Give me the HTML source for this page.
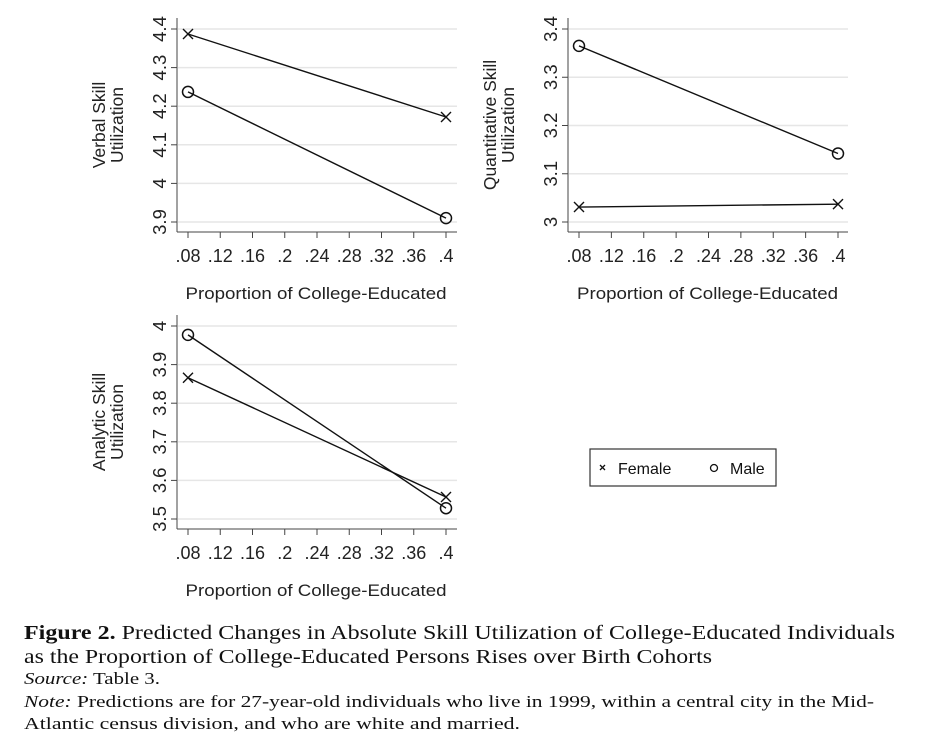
<!DOCTYPE html>
<html><head><meta charset="utf-8"><style>
html,body{margin:0;padding:0;background:#fff;}
svg{display:block;font-family:"Liberation Sans",sans-serif;}
</style></head><body>
<svg id="fig" width="942" height="743" viewBox="0 0 942 743" xmlns="http://www.w3.org/2000/svg">
<g id="panels"></g>
<g>
  <rect x="590" y="449" width="186" height="37" fill="#fff" stroke="#333" stroke-width="1.2"/>
  <g>
    <path d="M600,465 l5,5 M605,465 l-5,5" stroke="#111" stroke-width="1.3"/>
    <text x="618" y="474" font-size="16" fill="#111">Female</text>
  </g>
  <g>
    <circle cx="714" cy="468" r="3.5" fill="none" stroke="#111" stroke-width="1.3"/>
    <text x="730" y="474" font-size="16" fill="#111">Male</text>
  </g>
</g>
<g font-family="'Liberation Serif',serif" fill="#111">
  <text x="24" y="639" font-size="20" textLength="871" lengthAdjust="spacingAndGlyphs"><tspan font-weight="bold">Figure 2.</tspan> Predicted Changes in Absolute Skill Utilization of College-Educated Individuals</text>
  <text x="24" y="663" font-size="20" textLength="688" lengthAdjust="spacingAndGlyphs">as the Proportion of College-Educated Persons Rises over Birth Cohorts</text>
  <text x="24" y="684" font-size="17" textLength="136" lengthAdjust="spacingAndGlyphs"><tspan font-style="italic">Source:</tspan> Table 3.</text>
  <text x="24" y="707" font-size="17" textLength="850" lengthAdjust="spacingAndGlyphs"><tspan font-style="italic">Note:</tspan> Predictions are for 27-year-old individuals who live in 1999, within a central city in the Mid-</text>
  <text x="24" y="729" font-size="17" textLength="496" lengthAdjust="spacingAndGlyphs">Atlantic census division, and who are white and married.</text>
</g>
</svg>
<script>
const xCats = [0.08, 0.4];
const xTicks = [0.08, 0.12, 0.16, 0.2, 0.24, 0.28, 0.32, 0.36, 0.4];
const xTickLabels = [".08", ".12", ".16", ".2", ".24", ".28", ".32", ".36", ".4"];
const verbalFemale = [4.387, 4.172];
const verbalMale = [4.237, 3.91];
const verbalTicks = [3.9, 4, 4.1, 4.2, 4.3, 4.4];
const verbalTickLabels = ["3.9", "4", "4.1", "4.2", "4.3", "4.4"];
const quantFemale = [3.031, 3.037];
const quantMale = [3.365, 3.142];
const quantTicks = [3, 3.1, 3.2, 3.3, 3.4];
const quantTickLabels = ["3", "3.1", "3.2", "3.3", "3.4"];
const analyticFemale = [3.866, 3.557];
const analyticMale = [3.977, 3.528];
const analyticTicks = [3.5, 3.6, 3.7, 3.8, 3.9, 4];
const analyticTickLabels = ["3.5", "3.6", "3.7", "3.8", "3.9", "4"];

const NS = "http://www.w3.org/2000/svg";
const root = document.getElementById('panels');
function mk(tag, attrs, parent) {
  const e = document.createElementNS(NS, tag);
  for (const k in attrs) e.setAttribute(k, attrs[k]);
  parent.appendChild(e);
  return e;
}
function panel(cfg) {
  const g = mk('g', {}, root);
  
  
  const x = v => cfg.x0 + (v - 0.08) / 0.32 * (cfg.x1 - cfg.x0);
  const y = v => cfg.y0 + (cfg.yv0 - v) / (cfg.yv0 - cfg.yv1) * (cfg.y1 - cfg.y0);
  cfg.ticks.forEach((t, i) => {
    const gl = mk('line', {x1: cfg.ax + 1, x2: cfg.ar, y1: y(t), y2: y(t), stroke: '#e6e6e6', 'stroke-width': 1.5}, g);
    
    
    mk('line', {x1: cfg.ax - 6, x2: cfg.ax, y1: y(t), y2: y(t), stroke: '#444', 'stroke-width': 1}, g);
    const tl = mk('text', {x: 0, y: 0, 'font-size': 18.5, fill: '#222', 'text-anchor': 'middle',
      transform: `translate(${cfg.ax - 11},${y(t)}) rotate(-90)`}, g);
    tl.textContent = cfg.tickLabels[i];
    
    
  });
  mk('line', {x1: cfg.ax, x2: cfg.ax, y1: cfg.at, y2: cfg.ab, stroke: '#444', 'stroke-width': 1}, g);
  mk('line', {x1: cfg.ax, x2: cfg.ar, y1: cfg.ab, y2: cfg.ab, stroke: '#444', 'stroke-width': 1}, g);
  xTicks.forEach((t, i) => {
    mk('line', {x1: x(t), x2: x(t), y1: cfg.ab, y2: cfg.ab + 6, stroke: '#444', 'stroke-width': 1}, g);
    const tl = mk('text', {x: x(t), y: cfg.ab + 30, 'font-size': 18, fill: '#222', 'text-anchor': 'middle'}, g);
    tl.textContent = xTickLabels[i];
    
    
  });
  const xt = mk('text', {x: (cfg.x0 + cfg.x1) / 2 - 1, y: cfg.ab + 67, 'font-size': 17, fill: '#222', 'text-anchor': 'middle', textLength: 261, lengthAdjust: 'spacingAndGlyphs'}, g);
  xt.textContent = 'Proportion of College-Educated';
  
  
  const yt = mk('text', {x: 0, y: 0, 'font-size': 17.5, fill: '#222', 'text-anchor': 'middle',
    transform: `translate(${cfg.ax - 72},${cfg.ycenter}) rotate(-90)`}, g);
  
  
  mk('tspan', {x: 0, dy: 0}, yt).textContent = cfg.title;
  mk('tspan', {x: 0, dy: 18}, yt).textContent = 'Utilization';
  [[cfg.female, 'x', 'series-female'], [cfg.male, 'o', 'series-male']].forEach(([vals, m, nm]) => {
    const sg = mk('g', {}, g);
    
    
    const pts = vals.map((v, i) => [x(xCats[i]), y(v)]);
    const ln = mk('polyline', {points: pts.map(p => p.join(',')).join(' '), fill: 'none', stroke: '#111', 'stroke-width': 1.4}, sg);
    
    
    pts.forEach(p => {
      let mkEl;
      if (m === 'o') mkEl = mk('circle', {cx: p[0], cy: p[1], r: 5.5, fill: 'none', stroke: '#111', 'stroke-width': 1.5}, sg);
      else mkEl = mk('path', {d: `M${p[0]-5},${p[1]-5} L${p[0]+5},${p[1]+5} M${p[0]+5},${p[1]-5} L${p[0]-5},${p[1]+5}`, stroke: '#111', 'stroke-width': 1.4}, sg);
      
      
    });
  });
}
panel({name: 'verbal-panel', x0: 188, x1: 446, ax: 177, ar: 457, at: 18, ab: 232,
  yv0: 4.4, yv1: 3.9, y0: 29, y1: 222, ticks: verbalTicks, tickLabels: verbalTickLabels,
  female: verbalFemale, male: verbalMale, title: 'Verbal Skill', ycenter: 125});
panel({name: 'quantitative-panel', x0: 579, x1: 838, ax: 568, ar: 848, at: 18, ab: 232,
  yv0: 3.4, yv1: 3.0, y0: 29, y1: 222, ticks: quantTicks, tickLabels: quantTickLabels,
  female: quantFemale, male: quantMale, title: 'Quantitative Skill', ycenter: 125});
panel({name: 'analytic-panel', x0: 188, x1: 446, ax: 177, ar: 457, at: 315, ab: 529,
  yv0: 4.0, yv1: 3.5, y0: 326, y1: 519, ticks: analyticTicks, tickLabels: analyticTickLabels,
  female: analyticFemale, male: analyticMale, title: 'Analytic Skill', ycenter: 422});
</script>
</body></html>
